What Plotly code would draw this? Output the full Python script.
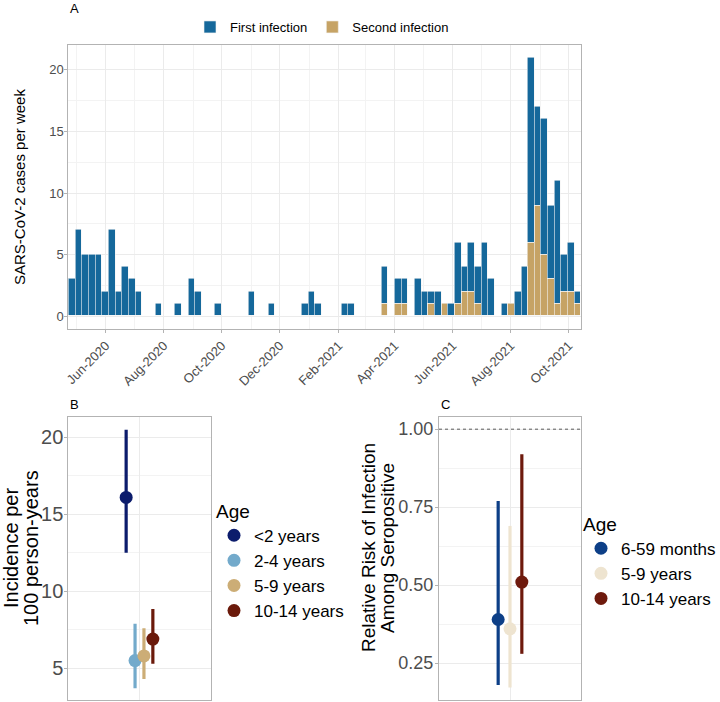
import pandas as pd
import plotly.graph_objects as go

# ---- panel A: weekly cases ----
week_start = "2020-04-26"
first_infection = [3, 7, 5, 5, 5, 2, 7, 2, 4, 3, 2, 0, 0, 1, 0, 0, 1, 0, 3, 2,
                   0, 0, 1, 0, 0, 0, 0, 2, 0, 0, 1, 0, 0, 0, 0, 1, 2, 1, 0, 0,
                   0, 1, 1, 0, 0, 0, 0, 3, 0, 2, 2, 0, 3, 2, 1, 2, 0, 1, 5, 2,
                   4, 3, 6, 3, 0, 1, 0, 2, 4, 15, 8, 11, 6, 10, 3, 4, 1]
second_infection = [0, 0, 0, 0, 0, 0, 0, 0, 0, 0, 0, 0, 0, 0, 0, 0, 0, 0, 0, 0,
                    0, 0, 0, 0, 0, 0, 0, 0, 0, 0, 0, 0, 0, 0, 0, 0, 0, 0, 0, 0,
                    0, 0, 0, 0, 0, 0, 0, 1, 0, 1, 1, 0, 0, 0, 1, 0, 1, 0, 1, 2,
                    2, 1, 0, 0, 0, 0, 1, 0, 0, 6, 9, 5, 3, 1, 2, 2, 1]

# ---- panel B: incidence ----
b_groups = ["<2 years", "2-4 years", "5-9 years", "10-14 years"]
b_est = [16.1, 5.5, 5.8, 6.9]
b_low = [12.5, 3.7, 4.3, 5.3]
b_high = [20.5, 7.9, 7.6, 8.85]
b_colors = ["#0C1C6C", "#73AACB", "#CCAD76", "#6B1A0B"]

# ---- panel C: relative risk ----
c_groups = ["6-59 months", "5-9 years", "10-14 years"]
c_est = [0.39, 0.36, 0.51]
c_low = [0.18, 0.172, 0.28]
c_high = [0.77, 0.69, 0.92]
c_colors = ["#0D3F87", "#EEE4D0", "#6E1A0D"]
null_rr = 1.0

BLUE = "#15689B"
TAN = "#C6A365"
FONT = "Liberation Sans, Arial, sans-serif"
GRID = "#EBEBEB"
BORDER = "#B3B3B3"
TXT = "#4D4D4D"

weeks = pd.date_range(week_start, periods=len(first_infection), freq="7D")

fig = go.Figure()


def nz(v):
    return [x if x else None for x in v]


fig.add_trace(go.Bar(x=weeks, y=nz(second_infection), name="Second infection",
                     marker=dict(color=TAN, line=dict(color="#F4F4F4", width=0.6)),
                     legend="legend", legendrank=2, xaxis="x", yaxis="y"))
fig.add_trace(go.Bar(x=weeks, y=nz(first_infection), name="First infection",
                     marker=dict(color=BLUE, line=dict(color="#F4F4F4", width=0.6)),
                     legend="legend", legendrank=1, xaxis="x", yaxis="y"))


def dodge(n, width=0.3):
    return [1 + (i - (n - 1) / 2) * width / n for i in range(n)]


for xi, g, e, lo, hi, col in zip(dodge(len(b_groups)), b_groups, b_est, b_low, b_high, b_colors):
    fig.add_trace(go.Scatter(
        x=[xi], y=[e], mode="markers", name=g, legend="legend2",
        marker=dict(color=col, size=13),
        error_y=dict(type="data", symmetric=False, array=[hi - e], arrayminus=[e - lo],
                     color=col, thickness=3.2, width=0),
        xaxis="x2", yaxis="y2"))

for xi, g, e, lo, hi, col in zip(dodge(len(c_groups)), c_groups, c_est, c_low, c_high, c_colors):
    fig.add_trace(go.Scatter(
        x=[xi], y=[e], mode="markers", name=g, legend="legend3",
        marker=dict(color=col, size=13),
        error_y=dict(type="data", symmetric=False, array=[hi - e], arrayminus=[e - lo],
                     color=col, thickness=3.2, width=0),
        xaxis="x3", yaxis="y3"))

fig.add_shape(type="line", xref="x3 domain", x0=0, x1=1, yref="y3", y0=null_rr, y1=null_rr,
              line=dict(color="#333333", width=0.8, dash="3px,3px"))

W, H = 720, 702


def px(x):
    return x / W


def py(y):
    return 1 - y / H


axis_common = dict(showline=True, linecolor=BORDER, linewidth=1, mirror=True,
                   showgrid=True, gridcolor=GRID, gridwidth=1, zeroline=False,
                   ticks="outside", tickcolor=BORDER, ticklen=3, automargin=False)
minor_grid = dict(showgrid=True, gridcolor="#F3F3F3", gridwidth=0.6)

fig.update_layout(
    width=W, height=H, margin=dict(l=0, r=0, t=0, b=0, autoexpand=False),
    plot_bgcolor="white", paper_bgcolor="white",
    font=dict(family=FONT, color="black"),
    barmode="stack", bargap=0,
    xaxis=dict(axis_common, domain=[px(68.3), px(580.7)], anchor="y", type="date",
               range=["2020-04-22 12:00", "2021-10-13 12:00"],
               tick0="2020-06-01", dtick="M2", tickformat="%b-%Y", tickangle=-45,
               tickfont=dict(size=13, color=TXT),
               minor=dict(minor_grid, dtick="M1")),
    yaxis=dict(axis_common, domain=[py(329), py(44.7)], anchor="x", range=[-1.05, 22.05],
               dtick=5, tickfont=dict(size=13, color=TXT), ticklabelstandoff=-2,
               minor=dict(minor_grid, dtick=2.5)),
    xaxis2=dict(axis_common, domain=[px(68.3), px(210.7)], anchor="y2", range=[0.4, 1.6],
                tickvals=[1], showticklabels=False, ticks=""),
    yaxis2=dict(axis_common, domain=[py(700), py(416.7)], anchor="x2", range=[2.94, 21.34],
                dtick=5, tickfont=dict(size=20, color=TXT), ticklabelstandoff=-3,
                minor=dict(minor_grid, dtick=2.5)),
    xaxis3=dict(axis_common, domain=[px(439), px(581)], anchor="y3", range=[0.4, 1.6],
                tickvals=[1], showticklabels=False, ticks=""),
    yaxis3=dict(axis_common, domain=[py(700), py(416.7)], anchor="x3", range=[0.132, 1.04],
                tickvals=[0.25, 0.5, 0.75, 1.0], ticktext=["0.25", "0.50", "0.75", "1.00"],
                tickfont=dict(size=18, color=TXT), ticklabelstandoff=-2,
                minor=dict(minor_grid, tickvals=[0.375, 0.625, 0.875])),
    legend=dict(orientation="h", x=px(322), xanchor="center", y=py(27), yanchor="middle",
                font=dict(size=13), traceorder="normal", bgcolor="rgba(0,0,0,0)"),
    legend2=dict(x=px(214), xanchor="left", y=py(493), yanchor="top",
                 title=dict(text="Age", font=dict(size=19)), font=dict(size=17),
                 tracegroupgap=0, bgcolor="rgba(0,0,0,0)"),
    legend3=dict(x=px(581), xanchor="left", y=py(506), yanchor="top",
                 title=dict(text="Age", font=dict(size=19)), font=dict(size=17),
                 tracegroupgap=0, bgcolor="rgba(0,0,0,0)"),
    showlegend=True,
)

annotations = [
    dict(text="A", x=px(68), y=py(8), xanchor="left", yanchor="middle", font=dict(size=13)),
    dict(text="B", x=px(68), y=py(405), xanchor="left", yanchor="middle", font=dict(size=13)),
    dict(text="C", x=px(439), y=py(405), xanchor="left", yanchor="middle", font=dict(size=13)),
    dict(text="SARS-CoV-2 cases per week", x=px(20), y=py(187), textangle=-90,
         xanchor="center", yanchor="middle", font=dict(size=15)),
    dict(text="Incidence per", x=px(11), y=py(548), textangle=-90,
         xanchor="center", yanchor="middle", font=dict(size=20)),
    dict(text="100 person-years", x=px(31), y=py(548), textangle=-90,
         xanchor="center", yanchor="middle", font=dict(size=20)),
    dict(text="Relative Risk of Infection", x=px(368), y=py(548), textangle=-90,
         xanchor="center", yanchor="middle", font=dict(size=19)),
    dict(text="Among Seropositive", x=px(387), y=py(548), textangle=-90,
         xanchor="center", yanchor="middle", font=dict(size=19)),
]
for a in annotations:
    a.update(xref="paper", yref="paper", showarrow=False)
fig.update_layout(annotations=annotations)

# drop the default 8px page margin so the figure fills the window exactly
fig.write_html("out.html", config={"displayModeBar": False},
               post_script="document.body.style.margin = '0px';")
